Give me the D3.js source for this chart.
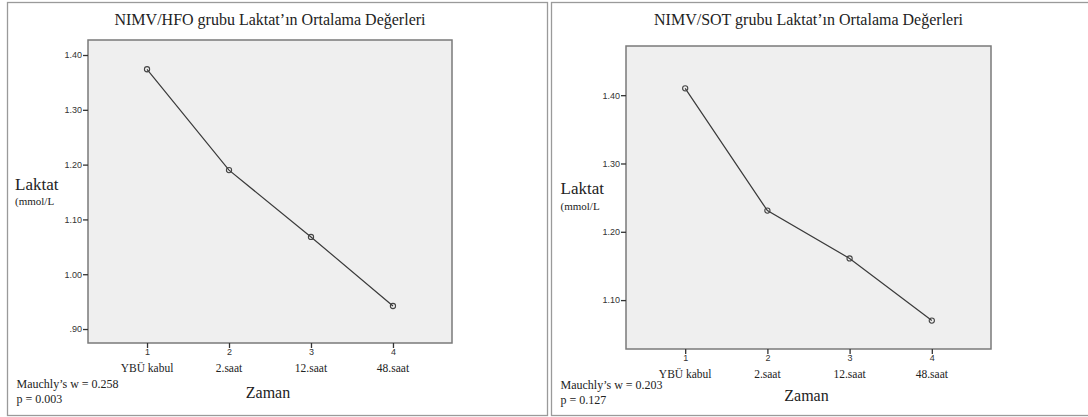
<!DOCTYPE html>
<html>
<head>
<meta charset="utf-8">
<script src="https://cdn.jsdelivr.net/npm/d3@7"></script>
<style>
  html, body { margin: 0; padding: 0; background: #fff; }
  svg { display: block; }
</style>
</head>
<body>
<svg id="chart" width="1088" height="417"></svg>
<script>
// ---- Data ----
const categories = ["1", "2", "3", "4"];
const categoryLabels = ["YBÜ kabul", "2.saat", "12.saat", "48.saat"];
const titles = ["NIMV/HFO grubu Laktat’ın Ortalama Değerleri", "NIMV/SOT grubu Laktat’ın Ortalama Değerleri"];
const hfoValues = [1.374, 1.190, 1.068, 0.942];
const sotValues = [1.410, 1.231, 1.161, 1.070];
const hfoTicks = [0.90, 1.00, 1.10, 1.20, 1.30, 1.40];
const sotTicks = [1.10, 1.20, 1.30, 1.40];
const hfoDomain = [0.8745, 1.4274];
const sotDomain = [1.0284, 1.472];
const yLabel = "Laktat";
const yUnit = "(mmol/L";
const xLabel = "Zaman";
const statsW = ["Mauchly’s w = 0.258", "Mauchly’s w = 0.203"];
const statsP = ["p = 0.003", "p = 0.127"];

// ---- Layout (positions/styles) ----
const panels = [
  { box: [7, 2, 540, 413], plot: { l: 88, t: 40, r: 452, b: 343 }, values: hfoValues, ticks: hfoTicks, domain: hfoDomain,
    laktatX: 15, laktatY: 190, unitY: 205, statX: 16.5, statY1: 388, statY2: 402.5, zamanY: 398 },
  { box: [551, 2, 545, 413], plot: { l: 626, t: 46, r: 991, b: 349 }, values: sotValues, ticks: sotTicks, domain: sotDomain,
    laktatX: 560.5, laktatY: 194, unitY: 210, statX: 560.5, statY1: 389, statY2: 404, zamanY: 400.5 }
];

const svg = d3.select("#chart");
const serif = "'Liberation Serif', 'Times New Roman', serif";
const sans = "'Liberation Sans', Arial, sans-serif";

panels.forEach((p, i) => {
  const g = svg.append("g");
  // outer frame
  g.append("rect")
    .attr("x", p.box[0] + 0.5).attr("y", p.box[1] + 0.5)
    .attr("width", p.box[2]).attr("height", p.box[3])
    .attr("fill", "none").attr("stroke", "#9a9a9a").attr("stroke-width", 1.3);

  const x = d3.scalePoint().domain(categories).range([p.plot.l, p.plot.r]).padding(0.72);
  const y = d3.scaleLinear().domain(p.domain).range([p.plot.b, p.plot.t]);

  // plot background
  g.append("rect")
    .attr("x", p.plot.l).attr("y", p.plot.t)
    .attr("width", p.plot.r - p.plot.l).attr("height", p.plot.b - p.plot.t)
    .attr("fill", "#efefef").attr("stroke", "#7a7a7a").attr("stroke-width", 1.5);

  // y axis
  const yAxis = d3.axisLeft(y).tickValues(p.ticks).tickSize(5).tickPadding(1)
    .tickFormat(d => { const s = d3.format(".2f")(d); return s.startsWith("0") ? s.slice(1) : s; });
  const ya = g.append("g").attr("transform", `translate(${p.plot.l},0)`).call(yAxis);
  ya.select(".domain").remove();
  ya.selectAll("line").attr("stroke", "#333").attr("stroke-width", 1.3);
  ya.selectAll("text").attr("font-family", sans).attr("font-size", 9).attr("fill", "#333");

  // x axis
  const xAxis = d3.axisBottom(x).tickSize(5).tickPadding(1);
  const xa = g.append("g").attr("transform", `translate(0,${p.plot.b})`).call(xAxis);
  xa.select(".domain").remove();
  xa.selectAll("line").attr("stroke", "#333").attr("stroke-width", 1.3);
  xa.selectAll("text").attr("font-family", sans).attr("font-size", 9).attr("fill", "#333");

  // category labels
  g.selectAll(".cat").data(categories).enter().append("text")
    .attr("x", d => x(d)).attr("y", p.plot.b + 28.5)
    .attr("text-anchor", "middle").attr("font-family", serif).attr("font-size", 11.5).attr("fill", "#222")
    .text((d, j) => categoryLabels[j]);

  // line
  const pts = categories.map((c, j) => [x(c), y(p.values[j])]);
  g.append("path").attr("d", d3.line()(pts))
    .attr("fill", "none").attr("stroke", "#3a3a3a").attr("stroke-width", 1.2);
  g.selectAll(".pt").data(pts).enter().append("circle")
    .attr("cx", d => d[0]).attr("cy", d => d[1]).attr("r", 2.6)
    .attr("fill", "none").attr("stroke", "#444").attr("stroke-width", 1.1);

  // title
  g.append("text").attr("x", (p.plot.l + p.plot.r) / 2).attr("y", 25)
    .attr("text-anchor", "middle").attr("font-family", serif).attr("font-size", 16).attr("fill", "#222")
    .text(titles[i]);

  // y label
  g.append("text").attr("x", p.laktatX).attr("y", p.laktatY)
    .attr("font-family", serif).attr("font-size", 17).attr("fill", "#222").text(yLabel);
  g.append("text").attr("x", p.laktatX).attr("y", p.unitY)
    .attr("font-family", serif).attr("font-size", 11).attr("fill", "#222").text(yUnit);

  // x label
  g.append("text").attr("x", (p.plot.l + p.plot.r) / 2 - 2).attr("y", p.zamanY)
    .attr("text-anchor", "middle").attr("font-family", serif).attr("font-size", 16).attr("fill", "#222").text(xLabel);

  // stats
  g.append("text").attr("x", p.statX).attr("y", p.statY1)
    .attr("font-family", serif).attr("font-size", 12).attr("fill", "#222").text(statsW[i]);
  g.append("text").attr("x", p.statX).attr("y", p.statY2)
    .attr("font-family", serif).attr("font-size", 12).attr("fill", "#222").text(statsP[i]);
});
</script>
</body>
</html>
